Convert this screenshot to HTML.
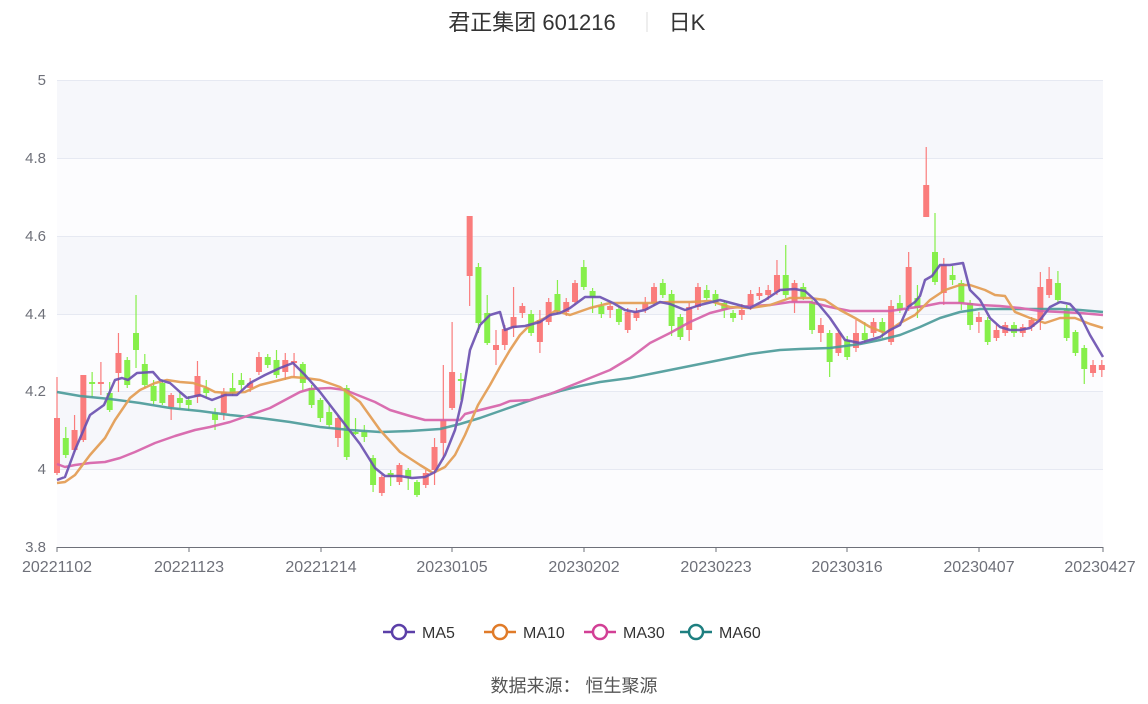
<!DOCTYPE html>
<html><head><meta charset="utf-8"><style>
body{margin:0;background:#fff;width:1148px;height:699px;overflow:hidden;font-family:"Liberation Sans","Noto Sans CJK SC",sans-serif}
</style></head><body>
<svg id="s" width="1148" height="699" xmlns="http://www.w3.org/2000/svg" font-family="Liberation Sans, Noto Sans CJK SC, sans-serif">
<rect x="57" y="80" width="1046" height="78" fill="#f6f7fb"/>
<rect x="57" y="158" width="1046" height="78" fill="#fcfcfe"/>
<rect x="57" y="236" width="1046" height="78" fill="#f6f7fb"/>
<rect x="57" y="314" width="1046" height="77" fill="#fcfcfe"/>
<rect x="57" y="391" width="1046" height="78" fill="#f6f7fb"/>
<rect x="57" y="469" width="1046" height="78" fill="#fcfcfe"/>
<g stroke="#e6e9f2" stroke-width="1">
<line x1="57" x2="1103" y1="80.5" y2="80.5"/><line x1="57" x2="1103" y1="158.5" y2="158.5"/>
<line x1="57" x2="1103" y1="236.5" y2="236.5"/><line x1="57" x2="1103" y1="314.5" y2="314.5"/>
<line x1="57" x2="1103" y1="391.5" y2="391.5"/><line x1="57" x2="1103" y1="469.5" y2="469.5"/>
</g>
<line x1="57" x2="1103" y1="547.5" y2="547.5" stroke="#6e7079"/>
<g fill="#6e7079" font-size="15" text-anchor="end">
<text x="46" y="85">5</text><text x="46" y="163">4.8</text><text x="46" y="241">4.6</text>
<text x="46" y="319">4.4</text><text x="46" y="396">4.2</text><text x="46" y="474">4</text><text x="46" y="552">3.8</text>
</g>
<g id="ticks" stroke="#6e7079"></g>
<g fill="#6e7079" font-size="16" text-anchor="middle">
<text x="57" y="572">20221102</text><text x="189" y="572">20221123</text><text x="321" y="572">20221214</text>
<text x="452" y="572">20230105</text><text x="584" y="572">20230202</text><text x="716" y="572">20230223</text>
<text x="847" y="572">20230316</text><text x="979" y="572">20230407</text><text x="1100" y="572">20230427</text>
</g>
<g id="c"></g>
<g fill="none" stroke-width="2.5" stroke-linejoin="round" opacity="0.9">
<polyline stroke="#4a9a99" points="57,392 80,396 110,399 140,403 170,408 200,411 230,415 260,418 290,422 320,427 350,430 380,432 410,431 440,429 460,424 480,418 500,411 520,404 540,397 560,391 580,386 600,382 630,378 660,372 690,366 720,360 750,354 780,350 800,349 830,348 860,344 880,340 900,335 920,327 940,318 960,312 980,309 1000,309 1030,309 1060,309 1080,310 1103,312"/>
<polyline stroke="#d660a8" points="57,464 65,467 75,465 90,463 105,462 120,458 135,452 155,443 175,436 195,430 210,427 230,422 250,415 270,408 285,400 300,392 310,389 330,388 345,390 360,396 375,402 390,410 410,416 425,420 445,420 460,420 465,414 480,410 500,405 510,401 530,400 550,394 570,386 590,378 610,370 630,358 650,343 670,333 690,322 710,313 730,308 750,306 770,305 790,302 810,302 830,307 850,311 870,311 890,311 910,308 925,306 940,303 960,303 980,305 1000,306 1020,308 1040,311 1060,312 1080,313 1103,315"/>
<polyline stroke="#e39a4f" points="57,483 65,482 75,475 90,455 105,438 115,420 130,398 140,390 155,383 167,380 180,382 193,383 205,387 215,392 230,393 245,392 260,385 280,380 292,377 305,378 320,380 340,387 360,402 380,430 400,452 420,465 433,473 445,467 455,455 465,435 478,405 490,385 500,367 510,350 520,335 530,325 545,318 555,311 560,312 570,315 590,308 610,303 630,303 650,303 670,302 690,302 710,301 730,307 750,308 770,305 790,298 810,298 825,300 840,310 855,318 870,327 885,333 900,323 915,315 930,300 945,290 960,285 970,285 985,290 995,295 1005,296 1015,312 1030,318 1045,323 1060,318 1075,318 1090,324 1103,328"/>
<polyline stroke="#6a4fb0" points="57,480 65,477 75,450 90,415 104,405 115,380 122,378 128,380 137,373 153,372 160,380 170,383 180,392 187,398 200,395 212,400 225,395 237,395 250,383 265,375 280,368 293,363 305,375 320,392 340,418 360,444 375,468 385,476 400,476 412,478 425,477 435,472 445,455 455,430 462,400 470,350 480,325 490,315 500,312 505,330 513,327 525,326 540,322 550,315 560,313 570,308 585,297 600,297 613,303 625,310 635,312 645,310 660,302 670,304 685,310 700,305 720,300 735,304 750,308 765,300 780,290 795,289 805,291 815,300 830,318 845,340 860,343 870,340 880,337 890,330 900,325 908,307 915,302 920,296 925,280 932,276 940,265 950,265 963,263 970,290 980,300 990,318 1000,327 1010,330 1020,330 1030,328 1040,320 1050,307 1060,302 1070,304 1080,315 1090,335 1103,357"/>
</g>
<g font-size="22" fill="#333">
<text x="532" y="30" text-anchor="middle">君正集团 601216</text>
<line x1="647" x2="647" y1="12" y2="32" stroke="#ddd"/>
<text x="687" y="30" text-anchor="middle">日K</text>
</g>
<g font-size="16" fill="#333" stroke-width="2.5">
<line x1="383" x2="415" y1="632" y2="632" stroke="#5b3fa8"/><circle cx="399" cy="632" r="7" fill="#fff" stroke="#5b3fa8"/><text x="422" y="638">MA5</text>
<line x1="484" x2="516" y1="632" y2="632" stroke="#e07b29"/><circle cx="500" cy="632" r="7" fill="#fff" stroke="#e07b29"/><text x="523" y="638">MA10</text>
<line x1="584" x2="616" y1="632" y2="632" stroke="#d23f95"/><circle cx="600" cy="632" r="7" fill="#fff" stroke="#d23f95"/><text x="623" y="638">MA30</text>
<line x1="680" x2="712" y1="632" y2="632" stroke="#1e7f80"/><circle cx="696" cy="632" r="7" fill="#fff" stroke="#1e7f80"/><text x="719" y="638">MA60</text>
</g>
<text x="574" y="692" font-size="18" fill="#555" text-anchor="middle">数据来源：  恒生聚源</text>
</svg>
<script>
var D=[[0,418,473,'r',377,475],[1,438,455,'g',427,458],[2,430,450,'r',415,452],[3,375,440,'r',375,442],[4,382,384,'g',372,397],[5,382,384,'r',362,395],[6,393,410,'g',382,412],[7,353,373,'r',333,392],[8,360,385,'g',357,388],[9,333,350,'g',295,368],[10,364,385,'g',354,388],[11,386,401,'g',380,404],[12,383,403,'g',380,405],[13,395,407,'r',393,420],[14,398,403,'g',392,408],[15,400,405,'g',396,411],[16,376,397,'r',361,403],[17,388,393,'g',380,398],[18,413,420,'g',408,430],[19,392,413,'r',388,420],[20,388,393,'g',373,396],[21,380,385,'g',373,390],[22,383,388,'r',378,392],[23,357,372,'r',352,375],[24,357,365,'g',354,368],[25,360,375,'g',350,378],[26,360,372,'r',353,380],[27,361,363,'r',353,377],[28,364,383,'g',362,390],[29,388,405,'g',385,408],[30,400,418,'g',398,422],[31,412,425,'g',405,428],[32,418,438,'r',415,447],[33,388,457,'g',385,460],[34,432,434,'g',418,435],[35,432,437,'g',425,442],[36,458,485,'g',455,492],[37,477,493,'r',475,496],[38,473,477,'g',470,486],[39,465,482,'r',463,485],[40,470,478,'g',468,490],[41,482,495,'g',480,497],[42,473,485,'r',470,488],[43,447,470,'r',438,485],[44,420,443,'r',365,460],[45,372,408,'r',322,410],[46,379,381,'g',373,400],[47,216,276,'r',216,306],[48,267,323,'g',263,333],[49,313,343,'g',295,345],[50,345,350,'r',330,365],[51,329,345,'r',325,350],[52,317,328,'r',287,337],[53,306,313,'r',303,318],[54,314,333,'g',310,336],[55,320,342,'r',310,353],[56,302,322,'r',298,325],[57,294,311,'g',280,314],[58,302,312,'r',298,316],[59,283,302,'r',280,305],[60,267,287,'g',260,290],[61,291,297,'g',288,313],[62,306,314,'g',302,318],[63,306,310,'r',302,318],[64,309,322,'g',306,325],[65,312,330,'r',308,333],[66,312,318,'r',308,321],[67,303,310,'r',297,313],[68,287,303,'r',283,306],[69,283,295,'g',279,298],[70,294,326,'g',290,336],[71,317,337,'g',314,340],[72,307,330,'r',303,341],[73,287,307,'r',283,310],[74,290,298,'g',285,300],[75,294,303,'g',290,306],[76,303,310,'g',300,318],[77,313,318,'g',310,322],[78,310,315,'r',304,320],[79,294,306,'r',290,310],[80,293,296,'r',287,300],[81,290,295,'r',285,300],[82,275,292,'r',260,295],[83,275,295,'g',245,298],[84,283,302,'r',280,313],[85,287,297,'g',283,300],[86,302,330,'g',300,334],[87,325,333,'r',318,342],[88,333,362,'g',330,377],[89,333,353,'r',330,356],[90,340,357,'g',336,360],[91,333,348,'r',320,352],[92,333,340,'g',322,343],[93,322,333,'r',318,337],[94,322,332,'g',318,338],[95,306,342,'r',300,345],[96,303,310,'g',295,313],[97,267,307,'r',252,311],[98,298,308,'g',285,318],[99,185,217,'r',147,217],[100,252,282,'g',213,285],[101,265,293,'r',258,305],[102,275,280,'g',266,285],[103,283,303,'g',280,310],[104,303,325,'g',300,330],[105,317,322,'r',312,333],[106,320,342,'g',317,345],[107,330,338,'r',325,341],[108,325,333,'r',322,336],[109,325,333,'g',322,337],[110,327,333,'r',324,337],[111,320,327,'r',317,331],[112,287,320,'r',272,330],[113,279,295,'r',267,298],[114,283,300,'g',271,303],[115,310,338,'g',305,341],[116,332,353,'g',330,356],[117,348,369,'g',345,384],[118,365,373,'r',360,377],[119,365,370,'r',360,377]];
var s='';D.forEach(function(d){var x=57+d[0]*8.78,c=d[3]=='r'?'#fa7c7c':'#86ef4a';
s+='<line x1="'+x+'" x2="'+x+'" y1="'+d[4]+'" y2="'+d[5]+'" stroke="'+c+'" stroke-width="1.2"/>';
s+='<rect x="'+(x-3)+'" y="'+d[1]+'" width="6" height="'+Math.max(1.5,d[2]-d[1])+'" fill="'+c+'"/>';});
document.getElementById('c').innerHTML=s;
var t='';[57,189,321,452,584,716,847,979,1103].forEach(function(x){t+='<line x1="'+x+'" x2="'+x+'" y1="547" y2="552"/>';});
document.getElementById('ticks').innerHTML=t;
</script>
</body></html>
